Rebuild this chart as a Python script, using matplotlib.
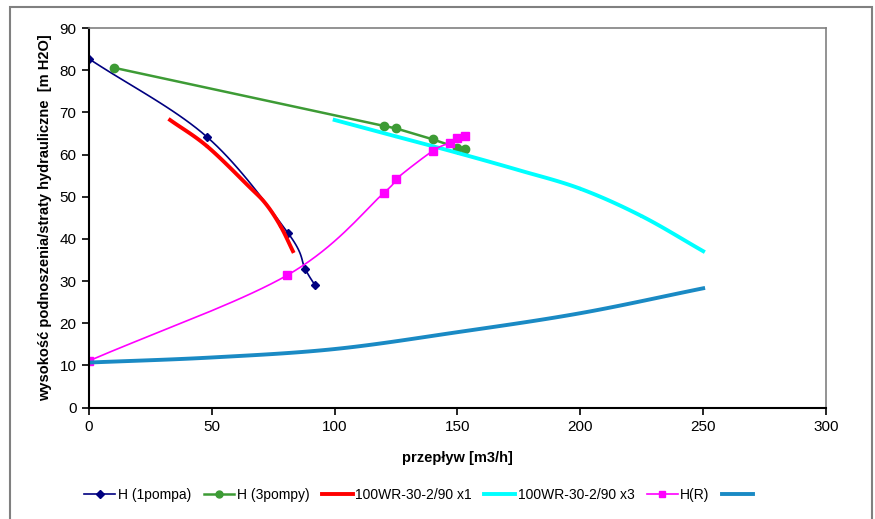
import numpy as np
import matplotlib
matplotlib.use("Agg")
import matplotlib.pyplot as plt
from matplotlib.patches import Rectangle

plt.rcParams['font.family'] = ['Liberation Sans', 'DejaVu Sans']

# pump 1 curve
q_1p = [0, 48, 81, 88, 92]
h_1p = [82.7, 64.2, 41.4, 32.9, 29.0]
# three pumps
q_3p = [10, 120, 125, 140, 150, 153]
h_3p = [80.6, 66.8, 66.2, 63.6, 61.6, 61.3]
# catalogue curve x1
q_wr1 = [33, 48, 65, 72, 78, 83]
h_wr1 = [68.2, 62.0, 52.5, 48.3, 43.0, 37.1]
# catalogue curve x3
q_wr3 = [100, 125, 150, 175, 200, 225, 250]
h_wr3 = [68.2, 64.3, 60.4, 56.3, 51.9, 45.4, 37.1]
# H(R)
q_r = [0, 80.7, 120, 125, 140, 147, 150, 153]
h_r = [11.1, 31.4, 50.9, 54.2, 60.9, 62.8, 63.9, 64.4]
# system losses (no label)
q_sys = [0, 50, 100, 150, 200, 250]
h_sys = [10.7, 11.9, 13.9, 17.9, 22.4, 28.3]


def smooth(x, y, n=20):
    # Catmull-Rom, like excel "smoothed line"
    x = np.asarray(x, float)
    y = np.asarray(y, float)
    if len(x) < 3:
        return x, y
    px = np.concatenate([[2 * x[0] - x[1]], x, [2 * x[-1] - x[-2]]])
    py = np.concatenate([[2 * y[0] - y[1]], y, [2 * y[-1] - y[-2]]])
    t = np.linspace(0, 1, n)
    xs, ys = [], []
    for i in range(1, len(px) - 2):
        for p, out in ((px, xs), (py, ys)):
            p0, p1, p2, p3 = p[i - 1], p[i], p[i + 1], p[i + 2]
            out.append(0.5 * ((2 * p1) + (-p0 + p2) * t
                              + (2 * p0 - 5 * p1 + 4 * p2 - p3) * t ** 2
                              + (-p0 + 3 * p1 - 3 * p2 + p3) * t ** 3))
    return np.concatenate(xs), np.concatenate(ys)


fig = plt.figure(figsize=(8.75, 5.19), dpi=100)
ax = fig.add_axes([0.1017, 0.2145, 0.8423, 0.7315])

c1 = '#000080'
c3 = '#3d9b35'
cr = '#ff00ff'
cs = '#1a8ac4'

x, y = smooth(q_1p, h_1p)
ax.plot(x, y, color=c1, lw=1.2)
ax.plot(q_1p, h_1p, ls='none', marker='D', ms=4.5, color=c1)

ax.plot(q_3p, h_3p, color=c3, lw=1.8, marker='o', ms=6)

x, y = smooth(q_wr1, h_wr1)
ax.plot(x, y, color='#ff0000', lw=2.8)

x, y = smooth(q_wr3, h_wr3)
ax.plot(x, y, color='#00ffff', lw=2.8)

x, y = smooth(q_r, h_r)
ax.plot(x, y, color=cr, lw=1.2)
ax.plot(q_r, h_r, ls='none', marker='s', ms=5.5, color=cr)

x, y = smooth(q_sys, h_sys)
ax.plot(x, y, color=cs, lw=2.8)

ax.set_xlim(0, 300)
ax.set_ylim(0, 90)
ax.set_xticks(range(0, 301, 50))
ax.set_yticks(range(0, 91, 10))
ax.tick_params(labelsize=11, direction='out', length=5, width=1.2, pad=4)
for s in ('left', 'bottom'):
    ax.spines[s].set_linewidth(1.5)
    ax.spines[s].set_color('black')
for s in ('top', 'right'):
    ax.spines[s].set_linewidth(1.2)
    ax.spines[s].set_color('#808080')

ax.set_xlabel('przepływ [m3/h]', fontsize=10.5, fontweight='bold', labelpad=12)
ax.set_ylabel('wysokość podnoszenia/straty hydrauliczne  [m H2O]',
              fontsize=10.5, fontweight='bold', labelpad=5)

handles = [
    plt.Line2D([], [], color=c1, lw=1.2, marker='D', ms=4),
    plt.Line2D([], [], color=c3, lw=1.8, marker='o', ms=5),
    plt.Line2D([], [], color='#ff0000', lw=2.8),
    plt.Line2D([], [], color='#00ffff', lw=2.8),
    plt.Line2D([], [], color=cr, lw=1.2, marker='s', ms=5),
    plt.Line2D([], [], color=cs, lw=2.8),
]
labels = ['H (1pompa)', 'H (3pompy)', '100WR-30-2/90 x1',
          '100WR-30-2/90 x3', 'H(R)', '']
fig.legend(handles, labels, loc='center', bbox_to_anchor=(0.48, 0.046),
           ncol=6, frameon=False, fontsize=10, handlelength=2.2,
           handletextpad=0.2, columnspacing=0.9)

fig.patches.append(Rectangle((10 / 875, -0.05), 862 / 875, 1.05 - 7 / 519,
                             transform=fig.transFigure, fill=False,
                             edgecolor='#808080', lw=1.5))

fig.savefig('out.png', dpi=100)
